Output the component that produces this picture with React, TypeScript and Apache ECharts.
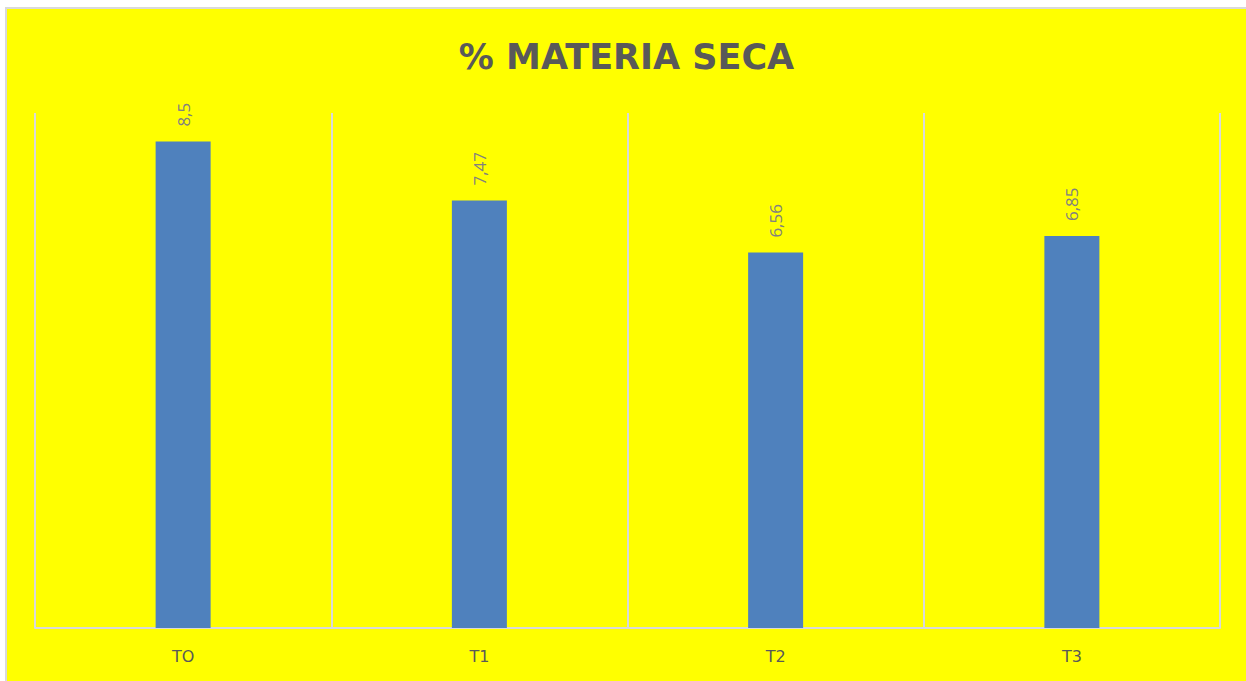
import React, { useEffect, useRef } from "react";
import * as echarts from "echarts";

const categories = ["TO", "T1", "T2", "T3"];
const values = [8.5, 7.47, 6.56, 6.85];
const titleText = "% MATERIA SECA";

export default function App() {
  const ref = useRef<HTMLDivElement>(null);
  useEffect(() => {
    if (!ref.current) return;
    const chart = echarts.init(ref.current, undefined, { renderer: "svg" });
    chart.setOption({
      animation: false,
      backgroundColor: "#FFFF00",
      title: {
        text: titleText,
        left: "center",
        top: 25,
        textStyle: {
          fontFamily: "DejaVu Sans",
          fontWeight: "bold",
          fontSize: 35,
          color: "#595959",
        },
      },
      grid: { left: 28, right: 26, top: 104, bottom: 53 },
      xAxis: {
        type: "category",
        data: categories,
        axisLine: { lineStyle: { color: "#d9d9d9", width: 2 } },
        axisTick: { show: false },
        splitLine: { show: true, lineStyle: { color: "#d9d9d9", width: 2 } },
        axisLabel: {
          margin: 20,
          fontFamily: "DejaVu Sans",
          fontSize: 16,
          color: "#595959",
        },
      },
      yAxis: {
        type: "value",
        min: 0,
        max: 9,
        show: false,
        splitLine: { show: false },
      },
      series: [
        {
          type: "bar",
          data: values,
          barWidth: 55,
          itemStyle: { color: "#4F81BD" },
          label: {
            show: true,
            position: "top",
            rotate: 90,
            align: "left",
            verticalAlign: "middle",
            distance: 15,
            fontFamily: "Open Sans",
            fontSize: 17,
            color: "#808080",
            formatter: (p: any) => String(p.value).replace(".", ","),
          },
        },
      ],
    });
    return () => chart.dispose();
  }, []);
  return (
    <div
      style={{
        position: "fixed",
        left: 5,
        top: 7,
        width: 1260,
        height: 700,
        borderTop: "2px solid #d9d9d9",
        borderLeft: "2px solid #d9d9d9",
        background: "#FFFF00",
        overflow: "hidden",
      }}
    >
      <div ref={ref} style={{ width: 1239, height: 672 }} />
    </div>
  );
}
